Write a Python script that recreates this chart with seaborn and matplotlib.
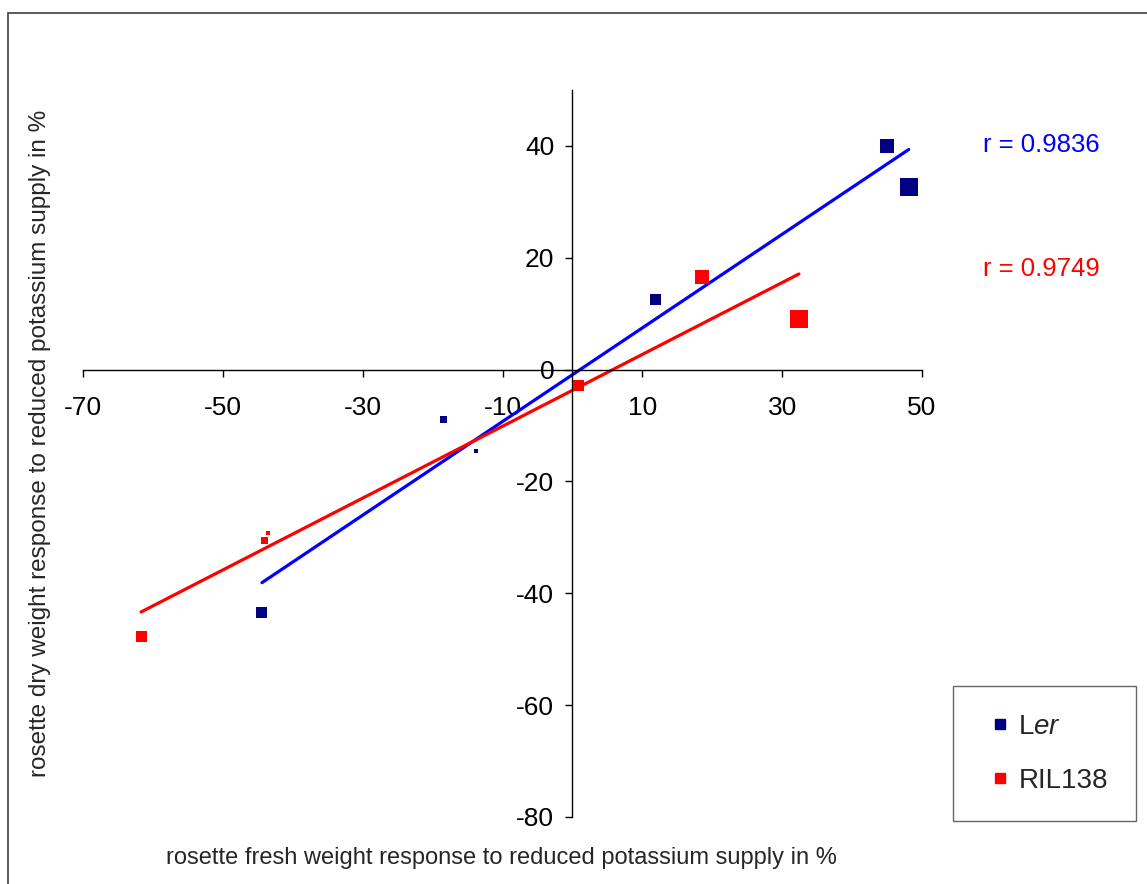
import numpy as np
import pandas as pd
import matplotlib
matplotlib.use("Agg")
import matplotlib.pyplot as plt
from matplotlib.lines import Line2D
from matplotlib.patches import Rectangle
import seaborn as sns

# Fresh-weight (x) and dry-weight (y) responses to reduced K supply, in %
ler_fresh = [45.0, 48.1, 11.9, -18.5, -13.8, -44.4]
ler_dry = [40.0, 32.7, 12.6, -9.0, -14.6, -43.5]
ril_fresh = [18.5, 32.4, 0.8, -44.1, -43.6, -61.7]
ril_dry = [16.6, 9.0, -2.9, -30.6, -29.3, -47.8]
# relative symbol size of each measurement (square side, px)
point_side = [14, 18, 11, 7, 4, 11]

genotypes = ["Ler", "RIL138"]
r_values = [0.9836, 0.9749]

x_ticks = [-70, -50, -30, -10, 10, 30, 50]
y_ticks = [40, 20, 0, -20, -40, -60, -80]

sns.set_style("white")
plt.rcParams["font.family"] = ["Liberation Sans", "DejaVu Sans"]
plt.rcParams["mathtext.fontset"] = "custom"
plt.rcParams["mathtext.rm"] = "Liberation Sans"
plt.rcParams["mathtext.it"] = "Liberation Sans:italic"

df = pd.DataFrame({
    "fresh": ler_fresh + ril_fresh,
    "dry": ler_dry + ril_dry,
    "genotype": [genotypes[0]] * len(ler_fresh) + [genotypes[1]] * len(ril_fresh),
    "area": [(p * 0.72) ** 2 for p in point_side] * 2,
})

point_colors = {"Ler": "#000080", "RIL138": "#FF0000"}
line_colors = {"Ler": "#0000FF", "RIL138": "#FF0000"}

fig = plt.figure(figsize=(11.47, 8.84), dpi=100)
ax = fig.add_axes([83 / 1147, 1 - 817 / 884, (922 - 83) / 1147, (817 - 90) / 884])

for g in genotypes:
    sub = df[df["genotype"] == g]
    sns.regplot(data=sub, x="fresh", y="dry", ax=ax, scatter=False, ci=None,
                truncate=True, color=line_colors[g], line_kws={"lw": 2.3})

sizes = {a: a for a in df["area"].unique()}
sns.scatterplot(data=df, x="fresh", y="dry", hue="genotype", size="area",
                sizes=sizes, palette=point_colors, marker="s", linewidth=0,
                ax=ax, legend=False, zorder=3)

ax.set_xlim(-70, 50)
ax.set_ylim(-80, 50)
ax.set_xticks(x_ticks)
ax.set_yticks(y_ticks)
ax.set_xticklabels([str(v) for v in x_ticks])
ax.set_yticklabels([str(v) for v in y_ticks])
ax.spines["left"].set_position(("data", 0))
ax.spines["bottom"].set_position(("data", 0))
ax.spines["top"].set_visible(False)
ax.spines["right"].set_visible(False)
for s in ("left", "bottom"):
    ax.spines[s].set_color("black")
    ax.spines[s].set_linewidth(1.0)
ax.tick_params(axis="both", direction="out", length=5, width=1.0,
               color="black", labelsize=19, labelcolor="black")
ax.tick_params(axis="x", pad=14, bottom=True)
ax.tick_params(axis="y", pad=8, left=True)
ax.set_xlabel("")
ax.set_ylabel("")
ax.patch.set_alpha(0)

fig.text(501 / 1147, 1 - 858 / 884,
         "rosette fresh weight response to reduced potassium supply in %",
         ha="center", va="center", fontsize=17)
fig.text(40 / 1147, 1 - 443 / 884,
         "rosette dry weight response to reduced potassium supply in %",
         ha="center", va="center", rotation=90, fontsize=17.5)

fig.text(983 / 1147, 1 - 145 / 884, f"r = {r_values[0]:.4f}",
         color=line_colors["Ler"], ha="left", va="center", fontsize=18.5)
fig.text(983 / 1147, 1 - 269 / 884, f"r = {r_values[1]:.4f}",
         color=line_colors["RIL138"], ha="left", va="center", fontsize=18.5)

handles = [
    Line2D([], [], marker="s", ls="none", color=point_colors["Ler"], markersize=6.5),
    Line2D([], [], marker="s", ls="none", color=point_colors["RIL138"], markersize=6.5),
]
leg = fig.legend(handles, ["L$\\mathit{er}$", "RIL138"], loc="upper left",
                 bbox_to_anchor=(953 / 1147, 1 - 686 / 884), fontsize=20,
                 frameon=True, fancybox=False, borderpad=1.0, labelspacing=1.0,
                 handlelength=1.4, handletextpad=-0.05, borderaxespad=0)
leg.get_frame().set_edgecolor("#404040")
leg.get_frame().set_linewidth(1.0)

# outer chart frame
fig.patches.append(Rectangle((8 / 1147, -0.1), 1.2, 1.1 - 13 / 884,
                             transform=fig.transFigure, fill=False,
                             edgecolor="#404040", linewidth=1.2, zorder=0))

fig.savefig("out.png", dpi=100, facecolor="white")
